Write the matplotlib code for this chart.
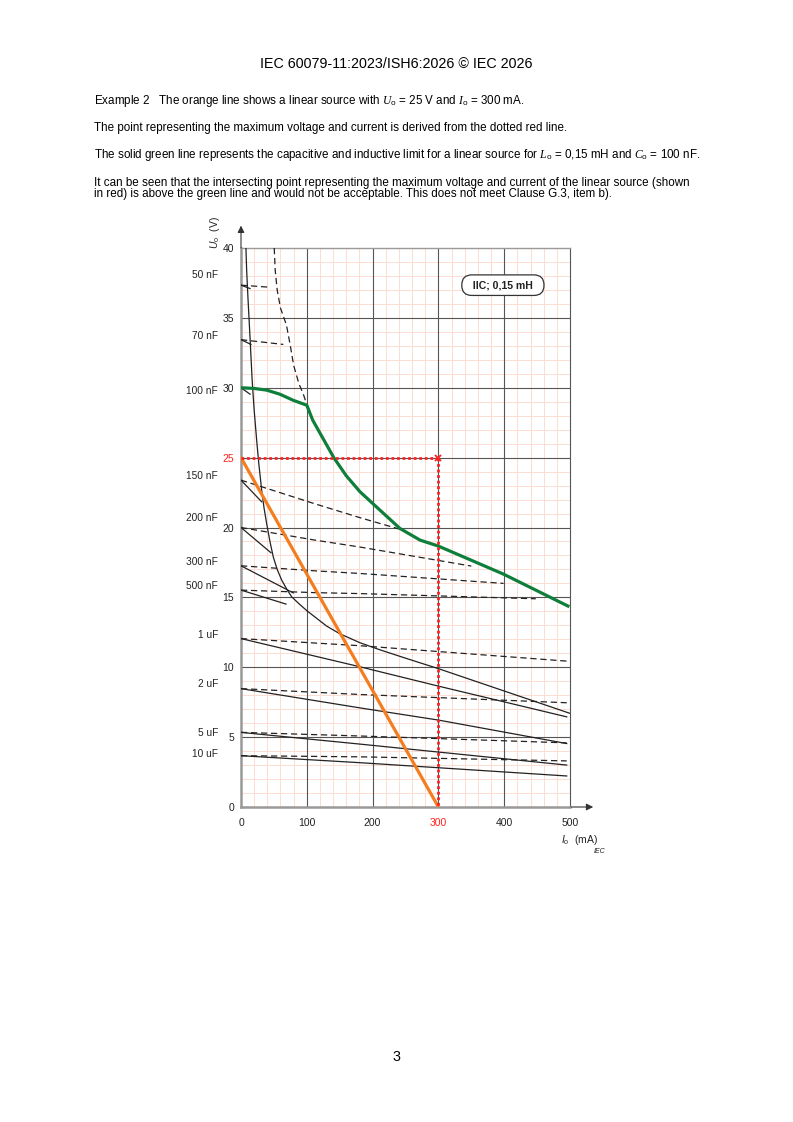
import matplotlib.pyplot as plt
import numpy as np

plt.rcParams['font.family'] = ['Liberation Sans', 'DejaVu Sans']
plt.rcParams['mathtext.fontset'] = 'custom'
plt.rcParams['mathtext.rm'] = 'Liberation Sans'
plt.rcParams['mathtext.it'] = 'Liberation Serif:italic'
plt.rcParams['mathtext.sf'] = 'Liberation Sans:italic'

# resistive limit curve (solid thin)
res_I = [7.5, 8.6, 10.5, 13.7, 17, 20, 23.8, 27, 31.4, 35, 39, 44, 49, 55, 61.8, 70, 77, 88,
         100, 115, 130, 150, 181, 211, 250, 300, 400, 500]
res_U = [40, 38.4, 36.5, 33.6, 30.5, 28.4, 26.25, 24.6, 22.68, 21.4, 20.28, 19.0, 17.9, 17.0,
         16.24, 15.55, 15.04, 14.55, 14.05, 13.5, 12.95, 12.4, 11.75, 11.25, 10.65, 9.9, 8.3, 6.7]

# inductive limit curve 0,15 mH (dashed)
ind_I = [50.5, 52, 55, 60, 69, 75, 80, 88, 95, 100]
ind_U = [40, 38.4, 37, 35.7, 34.5, 33, 31.6, 30.3, 29.5, 28.8]

# combined limit (green)
green_I = [0, 20, 39, 59, 79.5, 100, 109, 117.5, 141, 160, 181, 211, 241.6, 272, 300, 398.6, 499]
green_U = [30.0, 29.95, 29.83, 29.54, 29.1, 28.75, 27.68, 26.97, 25.0, 23.7, 22.55, 21.25,
           19.93, 19.1, 18.67, 16.67, 14.33]

# linear source
src_U = 25
src_I = 300

# capacitance curves
cap_names = ['50 nF', '70 nF', '100 nF', '150 nF', '200 nF', '300 nF', '500 nF',
             '1 uF', '2 uF', '5 uF', '10 uF']
cap_label_U = [38.05, 33.7, 29.76, 23.7, 20.67, 17.5, 15.8, 12.3, 8.8, 5.3, 3.8]

dash_I = [[0, 41.5], [0, 64.3], None, [0, 112, 181, 247], [0, 112, 181, 350],
          [0, 112, 181, 399], [0, 112, 181, 448], [0, 181, 495], [0, 181, 495],
          [0, 181, 495], [0, 181, 495]]
dash_U = [[37.34, 37.2], [33.44, 33.1], None, [23.39, 21.7, 20.7, 19.8],
          [20.0, 19.1, 18.6, 17.24], [17.26, 16.9, 16.71, 16.0], [15.52, 15.34, 15.27, 14.9],
          [12.05, 11.54, 10.44], [8.47, 8.05, 7.46], [5.34, 5.08, 4.59], [3.67, 3.59, 3.3]]

solid_I = [[0, 13.7], [0, 15.2], [0, 13.7], [0, 31.4], [0, 45.6], [0, 79.5], [0, 68.4],
           [0, 181, 300, 495], [0, 181, 300, 495], [0, 181, 495], [0, 181, 495]]
solid_U = [[37.34, 37.1], [33.44, 33.1], [30.0, 29.54], [23.39, 21.84], [20.0, 18.19],
           [17.26, 15.32], [15.52, 14.52], [12.05, 10.03, 8.65, 6.45],
           [8.47, 7.09, 6.22, 4.54], [5.34, 4.5, 3.0], [3.67, 3.17, 2.22]]

fig = plt.figure(figsize=(7.93, 11.22), dpi=100)

# page text
fig.text(0.5, 1 - 64 / 1122, 'IEC 60079-11:2023/ISH6:2026 © IEC 2026', ha='center', va='center',
         fontsize=10.3)
tx = 94 / 793
fs = 8.4
fig.text(tx, 1 - 101 / 1122, 'Example 2   The orange line shows a linear source with '
         r'$U_\mathrm{o}$ = 25 V and $I_\mathrm{o}$ = 300 mA.', va='center', fontsize=fs)
fig.text(tx, 1 - 128 / 1122, 'The point representing the maximum voltage and current is derived '
         'from the dotted red line.', va='center', fontsize=fs)
fig.text(tx, 1 - 155 / 1122, 'The solid green line represents the capacitive and inductive limit '
         r'for a linear source for $L_\mathrm{o}$ = 0,15 mH and $C_\mathrm{o}$ = 100 nF.',
         va='center', fontsize=fs)
fig.text(tx, 1 - 183 / 1122, 'It can be seen that the intersecting point representing the maximum '
         'voltage and current of the linear source (shown', va='center', fontsize=fs)
fig.text(tx, 1 - 194 / 1122, 'in red) is above the green line and would not be acceptable. '
         'This does not meet Clause G.3, item b).', va='center', fontsize=fs)
fig.text(0.5, 1 - 1057 / 1122, '3', ha='center', va='center', fontsize=10.3)

ax = fig.add_axes([241 / 793, 1 - 807 / 1122, 329 / 793, 559 / 1122])
ax.set_xlim(0, 500)
ax.set_ylim(0, 40)
ax.set_xticks(np.arange(0, 501, 100))
ax.set_yticks(np.arange(0, 41, 5))

# grid: light minor lines, dark major lines on top
for x in np.arange(20, 500, 20):
    if x % 100:
        ax.axvline(x, color='#fcdcd2', lw=0.7, zorder=1)
for y in np.arange(1, 40, 1):
    if y % 5:
        ax.axhline(y, color='#fcdcd2', lw=0.7, zorder=1)
for x in np.arange(100, 500, 100):
    ax.axvline(x, color='#555555', lw=0.8, zorder=1.5)
for y in np.arange(5, 40, 5):
    ax.axhline(y, color='#555555', lw=0.8, zorder=1.5)

ax.tick_params(which='both', length=0, labelsize=7.5, colors='#222222')
ax.tick_params(axis='x', pad=8)
ax.tick_params(axis='y', pad=5)
for t in ax.get_yticklabels():
    if t.get_text() == '25':
        t.set_color('#ff2020')
for t in ax.get_xticklabels():
    if t.get_text() == '300':
        t.set_color('#ff2020')

for s in ['left', 'bottom']:
    ax.spines[s].set_color('#999999')
    ax.spines[s].set_linewidth(1.8)
ax.spines['top'].set_color('#999999')
ax.spines['top'].set_linewidth(1.0)
ax.spines['right'].set_color('#555555')
ax.spines['right'].set_linewidth(0.8)

# axis arrows
ax.annotate('', xy=(0, 1.045), xytext=(0, 0.995), xycoords='axes fraction',
            arrowprops=dict(arrowstyle='-|>', color='#333333', lw=0.8, mutation_scale=10))
ax.annotate('', xy=(1.079, 0), xytext=(0.995, 0), xycoords='axes fraction',
            arrowprops=dict(arrowstyle='-|>', color='#333333', lw=0.8, mutation_scale=10))

# curves
ax.plot(res_I, res_U, color='#222222', lw=0.9, zorder=3)
ax.plot(ind_I, ind_U, color='#222222', lw=0.9, ls=(0, (5, 3)), zorder=3)
for i in range(len(cap_names)):
    if dash_I[i] is not None:
        ax.plot(dash_I[i], dash_U[i], color='#222222', lw=0.9, ls=(0, (5, 3)), zorder=3)
    ax.plot(solid_I[i], solid_U[i], color='#222222', lw=0.9, zorder=3)
    ax.text(-0.07, cap_label_U[i], cap_names[i], transform=ax.get_yaxis_transform(),
            ha='right', va='center', fontsize=7.3, color='#222222')

ax.plot(green_I, green_U, color='#0d7f3a', lw=2.3, zorder=4, solid_capstyle='butt')
ax.plot([0, src_I], [src_U, 0], color='#f47d20', lw=2.3, zorder=4)
ax.plot([0, src_I], [src_U, src_U], color='#ff2020', lw=2.0, ls=(0, (1, 1)), zorder=5)
ax.plot([src_I, src_I], [src_U, 0], color='#ff2020', lw=2.0, ls=(0, (1, 1)), zorder=5)
ax.plot([src_I], [src_U], marker='x', color='#ff2020', ms=4, mew=1.3, zorder=6)

ax.text(398, 37.34, '  IIC; 0,15 mH  ', ha='center', va='center', fontsize=7.6,
        fontweight='bold', color='#222222', zorder=6,
        bbox=dict(boxstyle='round,pad=0.5,rounding_size=0.95', fc='white', ec='#333333', lw=0.9))

# axis labels
ax.text(-0.08, 0.998, r'$\mathsf{U}_\mathrm{o}$  (V)', transform=ax.transAxes, rotation=90,
        ha='center', va='bottom', fontsize=7.5, color='#222222')
ax.text(1.03, -0.059, r'$\mathsf{I}_\mathrm{o}$  (mA)', transform=ax.transAxes,
        ha='center', va='center', fontsize=7.5, color='#222222')
ax.text(1.09, -0.080, 'IEC', transform=ax.transAxes, ha='center', va='center', fontsize=5,
        style='italic', color='#222222')

fig.savefig('out.png', dpi=100)
